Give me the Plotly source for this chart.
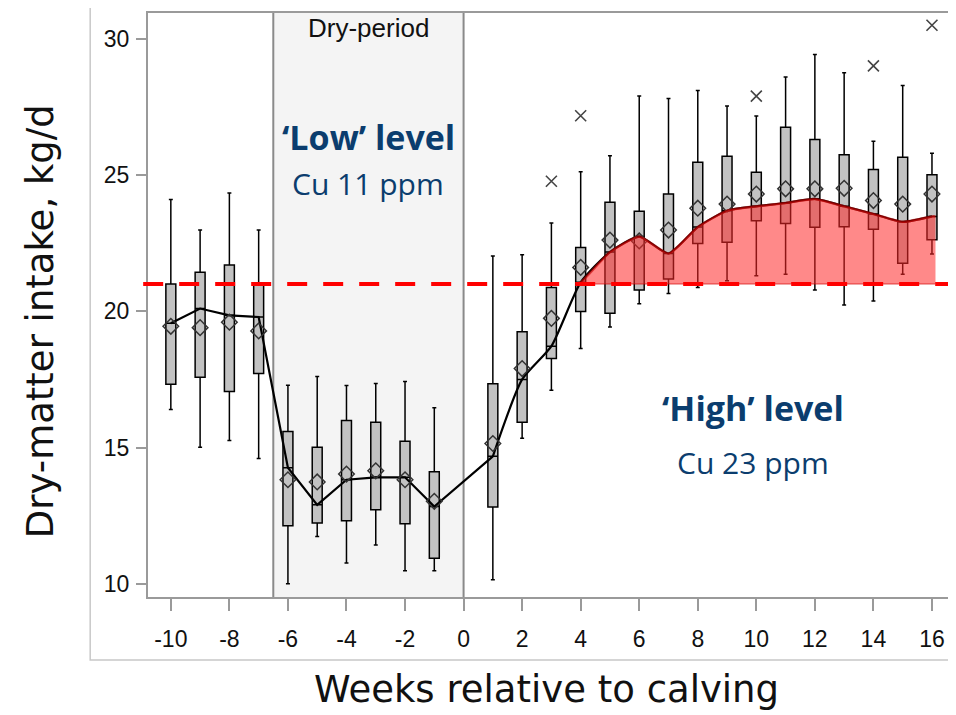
import plotly.graph_objects as go

# ---------------- data ----------------
weeks = [-10, -9, -8, -7, -6, -5, -4, -3, -2, -1,
         1, 2, 3, 4, 5, 6, 7, 8, 9, 10, 11, 12, 13, 14, 15, 16]
q1 = [17.32, 17.58, 17.06, 17.72, 12.13, 12.23, 12.32, 12.72, 12.21, 10.94,
      12.82, 15.93, 18.27, 19.99, 19.93, 20.78, 21.18, 22.49, 22.53, 23.32,
      23.22, 23.08, 23.10, 23.01, 21.76, 22.62]
q3 = [21.00, 21.43, 21.70, 20.95, 15.59, 15.01, 15.99, 15.93, 15.23, 14.11,
      17.34, 19.25, 20.87, 22.34, 24.00, 23.67, 24.30, 25.47, 25.69, 25.10,
      26.75, 26.30, 25.74, 25.20, 25.65, 25.01]
medians = [19.56, 20.10, 19.85, 19.79, 14.26, 12.90, 13.82, 13.91, 13.91, 12.84,
           14.68, 17.50, 18.72, 21.06, 22.17, 22.74, 22.12, 23.09, 23.69, 23.85,
           23.97, 24.12, 23.85, 23.57, 23.28, 23.48]
means = [19.45, 19.40, 19.60, 19.28, 13.82, 13.74, 14.03, 14.15, 13.82, 13.03,
         15.15, 17.90, 19.74, 21.61, 22.61, 22.58, 22.98, 23.78, 23.93, 24.30,
         24.49, 24.49, 24.51, 24.06, 23.93, 24.30]
whisk_lo = [16.40, 15.01, 15.26, 14.60, 10.01, 11.74, 10.77, 11.43, 10.48, 10.48,
            10.15, 15.34, 17.10, 18.63, 19.42, 20.28, 20.65, 20.87, 21.12, 21.30,
            21.36, 20.78, 20.23, 20.38, 21.36, 22.10]
whisk_hi = [24.10, 22.98, 24.34, 22.98, 17.29, 17.61, 17.28, 17.35, 17.42, 16.46,
            22.03, 22.07, 23.24, 25.12, 25.70, 27.90, 27.80, 28.10, 27.53, 27.16,
            28.59, 29.42, 28.75, 26.24, 28.28, 25.80]

outlier_weeks = [3, 4, 10, 14, 16]
outlier_values = [24.77, 27.17, 27.89, 29.00, 30.49]

threshold = 21.0
fill_start, fill_end = 3.85, 16.12

x_ticks = [-10, -8, -6, -4, -2, 0, 2, 4, 6, 8, 10, 12, 14, 16]
y_ticks = [10, 15, 20, 25, 30]

dry_start, dry_end = -6.5, 0

navy = "#0b3d6e"
axis_gray = "#9a9a9a"
label_font = "Open Sans, Noto Sans, sans-serif"
title_font = "DejaVu Sans, Open Sans, sans-serif"
tick_font = "Liberation Sans Narrow, Liberation Sans, Arial"

fig = go.Figure()

# box plots
fig.add_trace(go.Box(
    x=weeks, q1=q1, q3=q3, median=medians,
    lowerfence=whisk_lo, upperfence=whisk_hi,
    width=0.34, whiskerwidth=0.4,
    fillcolor="#c2c2c2", line=dict(color="black", width=1.5),
    boxpoints=False, showlegend=False, hoverinfo="skip",
))

# median line: pre-calving (linear), post-calving (smooth)
pre_idx = [i for i, w in enumerate(weeks) if w <= 1]
post_idx = [i for i, w in enumerate(weeks) if w >= 1]
fig.add_trace(go.Scatter(
    x=[weeks[i] for i in pre_idx], y=[medians[i] for i in pre_idx],
    mode="lines", line=dict(color="black", width=2.2), showlegend=False))
fig.add_trace(go.Scatter(
    x=[weeks[i] for i in post_idx], y=[medians[i] for i in post_idx],
    mode="lines", line=dict(color="black", width=2.2, shape="spline", smoothing=0.6),
    showlegend=False))

# mean diamonds
fig.add_trace(go.Scatter(
    x=weeks, y=means, mode="markers",
    marker=dict(symbol="diamond-open", size=12, color="#333333", line=dict(width=1.5)),
    showlegend=False))

# outliers
fig.add_trace(go.Scatter(
    x=outlier_weeks, y=outlier_values, mode="markers",
    marker=dict(symbol="x-thin", size=11, color="#444444", line=dict(width=1.6, color="#444444")),
    showlegend=False))

# red area above threshold: baseline then upper curve filled to it
top_x = [w for w in weeks if fill_start <= w <= fill_end]
top_y = [medians[weeks.index(w)] for w in top_x]
fig.add_trace(go.Scatter(
    x=[fill_start, fill_end], y=[threshold, threshold], mode="lines",
    line=dict(color="rgba(210,0,0,0.35)", width=2), showlegend=False, hoverinfo="skip"))
fig.add_trace(go.Scatter(
    x=[fill_start] + top_x + [fill_end], y=[threshold] + top_y + [top_y[-1]],
    mode="lines", fill="tonexty",
    fillcolor="rgba(255,40,40,0.55)",
    line=dict(color="rgba(200,0,0,0.6)", width=2.5, shape="spline", smoothing=0.5),
    showlegend=False, hoverinfo="skip"))

# shapes
shapes = [
    dict(type="rect", xref="x", yref="paper", x0=dry_start, x1=dry_end, y0=0, y1=1,
         fillcolor="#f4f4f4", line=dict(width=0), layer="below"),
    dict(type="line", xref="x", yref="paper", x0=dry_start, x1=dry_start, y0=0, y1=1,
         line=dict(color="#8a8a8a", width=2), layer="below"),
    dict(type="line", xref="x", yref="paper", x0=dry_end, x1=dry_end, y0=0, y1=1,
         line=dict(color="#8a8a8a", width=2), layer="below"),
    dict(type="line", xref="paper", yref="y", x0=-0.006, x1=1, y0=threshold, y1=threshold,
         line=dict(color="#ff0000", width=4, dash="20px,16px"), layer="above"),
    # outer card border
    dict(type="rect", xref="paper", yref="paper", x0=-0.072, x1=1.0025, y0=-0.108, y1=1.012,
         line=dict(color="#c8c8c8", width=1.5), fillcolor="rgba(0,0,0,0)", layer="below"),
]

annotations = [
    dict(x=(dry_start + dry_end) / 2, y=30.4, xref="x", yref="y", text="Dry-period",
         showarrow=False, font=dict(family="Liberation Sans, Arial", size=26, color="#111")),
    dict(x=(dry_start + dry_end) / 2, y=26.4, xref="x", yref="y", text="<b>‘Low’ level</b>",
         showarrow=False, font=dict(family=label_font, size=34, color=navy)),
    dict(x=(dry_start + dry_end) / 2, y=24.7, xref="x", yref="y", text="Cu 11 ppm",
         showarrow=False, font=dict(family=label_font, size=30, color=navy)),
    dict(x=9.9, y=16.45, xref="x", yref="y", text="<b>‘High’ level</b>",
         showarrow=False, font=dict(family=label_font, size=34, color=navy)),
    dict(x=9.9, y=14.45, xref="x", yref="y", text="Cu 23 ppm",
         showarrow=False, font=dict(family=label_font, size=30, color=navy)),
    dict(x=-0.134, y=0.473, xref="paper", yref="paper", text="Dry-matter intake, kg/d",
         xanchor="center", yanchor="middle",
         textangle=-90, showarrow=False, font=dict(family=title_font, size=37, color="#111")),
    dict(x=0.496, y=-0.159, xref="paper", yref="paper", text="Weeks relative to calving",
         xanchor="center", yanchor="middle",
         showarrow=False, font=dict(family=title_font, size=37, color="#111")),
]

# page body has an 8px margin: shrink the figure so the plot lands where it should
fig.update_layout(
    width=948, height=707,
    margin=dict(l=140, r=3, t=5, b=118),
    paper_bgcolor="white", plot_bgcolor="white",
    shapes=shapes, annotations=annotations,
    showlegend=False,
)
fig.update_xaxes(
    range=[-10.78, 16.65], tickvals=x_ticks, ticktext=[str(v) for v in x_ticks],
    showgrid=False, zeroline=False, showline=True, linecolor=axis_gray, linewidth=2,
    mirror=True, ticks="outside", ticklen=12, tickwidth=2, tickcolor=axis_gray,
    ticklabelstandoff=8,
    tickfont=dict(family=tick_font, size=23, color="#111"),
)
fig.update_yaxes(
    range=[9.52, 30.94], tickvals=y_ticks,
    showgrid=False, zeroline=False, showline=True, linecolor=axis_gray, linewidth=2,
    mirror=True, ticks="outside", ticklen=10, tickwidth=2, tickcolor=axis_gray,
    ticklabelstandoff=2,
    tickfont=dict(family=tick_font, size=23, color="#111"),
)

fig.write_html("out.html")
